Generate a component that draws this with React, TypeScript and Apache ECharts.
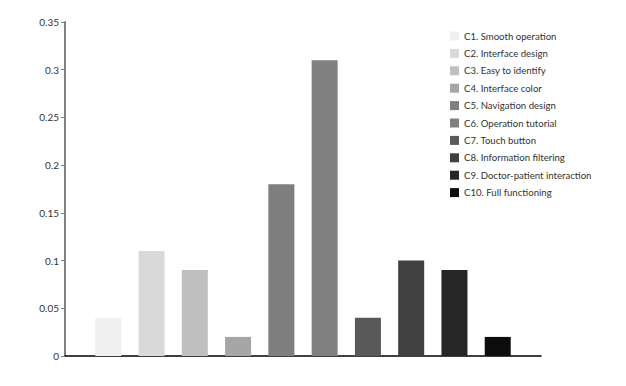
import React, { useEffect, useRef } from "react";
import * as echarts from "echarts";

const categories = [
  "C1. Smooth operation",
  "C2. Interface design",
  "C3. Easy to identify",
  "C4. Interface color",
  "C5. Navigation design",
  "C6. Operation tutorial",
  "C7. Touch button",
  "C8. Information filtering",
  "C9. Doctor-patient interaction",
  "C10. Full functioning",
];
const values = [0.04, 0.11, 0.09, 0.02, 0.18, 0.31, 0.04, 0.1, 0.09, 0.02];
const colors = [
  "#f0f0f0",
  "#d9d9d9",
  "#bfbfbf",
  "#a6a6a6",
  "#7f7f7f",
  "#808080",
  "#595959",
  "#404040",
  "#262626",
  "#0d0d0d",
];
const yTicks = ["0", "0.05", "0.1", "0.15", "0.2", "0.25", "0.3", "0.35"];

export default function App() {
  const ref = useRef<HTMLDivElement>(null);
  useEffect(() => {
    if (!ref.current) return;
    const chart = echarts.init(ref.current, undefined, { renderer: "svg" });
    const xData = ["", ...categories.map((_, i) => "C" + (i + 1)), ""];
    const series = categories.map((name, i) => {
      const data: (number | null)[] = xData.map(() => null);
      data[i + 1] = values[i];
      return {
        name,
        type: "bar" as const,
        stack: "all",
        barWidth: 26,
        data,
        itemStyle: { color: colors[i] },
      };
    });
    chart.setOption({
      animation: false,
      textStyle: { fontFamily: "Lato" },
      grid: { left: 65, right: 85, top: 22, bottom: 30 },
      legend: {
        orient: "vertical",
        left: 445,
        top: 25,
        icon: "rect",
        itemWidth: 9,
        itemHeight: 9,
        itemGap: 5.4,
        data: categories,
        textStyle: { fontSize: 9.6, color: "#333", lineHeight: 12, fontFamily: "Lato" },
      },
      xAxis: {
        type: "category",
        data: xData,
        boundaryGap: false,
        axisLine: { lineStyle: { color: "#000", width: 1.5 } },
        axisTick: { show: false },
        axisLabel: { show: false },
        splitLine: { show: false },
      },
      yAxis: {
        type: "value",
        min: 0,
        max: 0.35,
        interval: 0.05,
        axisLine: { show: true, lineStyle: { color: "#808080", width: 2 } },
        axisTick: { show: true, length: 4, lineStyle: { color: "#808080" } },
        splitLine: { show: false },
        axisLabel: {
          fontSize: 10,
          color: "#333",
          margin: 6,
          formatter: (v: number) => {
            const idx = Math.round(v / 0.05);
            return yTicks[idx] ?? String(v);
          },
        },
      },
      series,
    });
    return () => chart.dispose();
  }, []);
  return (
    <div
      ref={ref}
      style={{ position: "absolute", left: 0, top: 0, width: 626, height: 386 }}
    />
  );
}
